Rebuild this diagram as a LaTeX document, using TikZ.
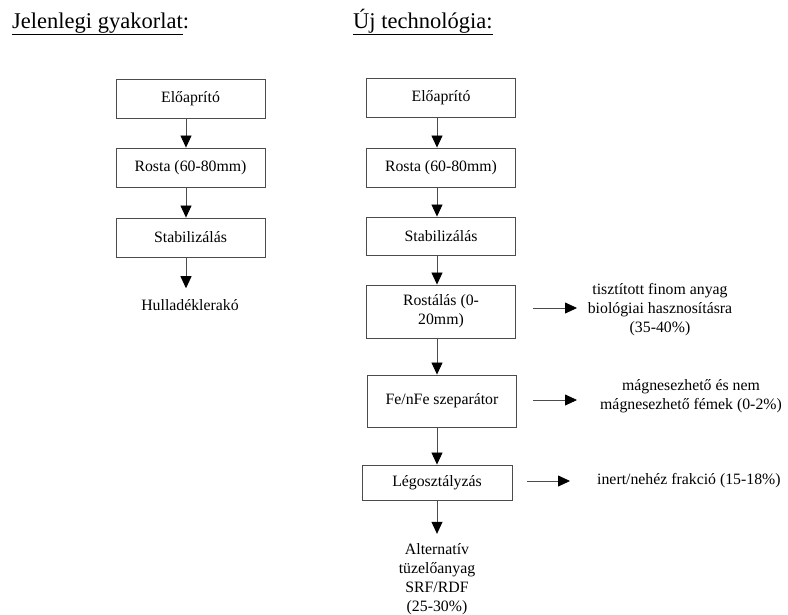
\documentclass[tikz,border=0pt]{standalone}
\usepackage{fontspec}
\setmainfont{Liberation Serif}
\usetikzlibrary{arrows.meta}
\begin{document}
\begin{tikzpicture}[x=1pt,y=-1pt,
  every node/.style={font=\fontsize{15.8}{19}\selectfont, inner sep=0pt},
  stepbox/.style={draw=black!70, line width=0.9pt, minimum width=149pt, minimum height=39pt, align=center, fill=white},
  flow/.style={draw=black!70, line width=0.8pt, -{Triangle[width=11pt,length=12pt,color=black,fill=black]}},
  side/.style={align=center},
  heading/.style={font=\fontsize{22.5}{26}\selectfont, anchor=base west}]
\useasboundingbox (0,0) rectangle (788,614);

% headings
\node[heading] (h1) at (12,28) {\underline{Jelenlegi gyakorlat}:};
\node[heading] (h2) at (353,28) {\underline{Új technológia:}};

% current practice
\node[stepbox] (l1) at (190.5,98.5) {Előaprító};
\node[stepbox] (l2) at (190.5,167.5) {Rosta (60-80mm)};
\node[stepbox] (l3) at (190.5,237.5) {Stabilizálás};
\node (l4) at (190,305) {Hulladéklerakó};
\coordinate (lx) at (186,0);
\draw[flow] (l1.south -| lx) -- (l2.north -| lx);
\draw[flow] (l2.south -| lx) -- (l3.north -| lx);
\draw[flow] (l3.south -| lx) -- ([yshift=11pt]l4.north -| lx);

% new technology
\node[stepbox] (r1) at (441,97.5) {Előaprító};
\node[stepbox] (r2) at (441,167.5) {Rosta (60-80mm)};
\node[stepbox, minimum height=38pt] (r3) at (441,236) {Stabilizálás};
\node[stepbox, minimum height=53pt] (r4) at (441,311.5) {Rostálás (0-\\20mm)};
\node[stepbox, minimum height=52pt] (r5) at (442,401) {Fe/nFe szeparátor};
\node[stepbox, minimum width=150pt, minimum height=35pt] (r6) at (437,482.5) {Légosztályzás};
\node[side, font=\fontsize{15.8}{19.2}\selectfont] (r7) at (437,579) {Alternatív\\tüzelőanyag\\SRF/RDF\\(25-30\%)};
\coordinate (rx) at (437,0);
\draw[flow] (r1.south -| rx) -- (r2.north -| rx);
\draw[flow] (r2.south -| rx) -- (r3.north -| rx);
\draw[flow] (r3.south -| rx) -- (r4.north -| rx);
\draw[flow] (r4.south -| rx) -- (r5.north -| rx);
\draw[flow] (r5.south -| rx) -- (r6.north -| rx);
\draw[flow] (r6.south -| rx) -- ([yshift=9pt]r7.north -| rx);

% side outputs
\node[side] (o4) at (660,310) {tisztított finom anyag\\biológiai hasznosításra\\(35-40\%)};
\node[side] (o5) at (691,396) {mágnesezhető és nem\\mágnesezhető fémek (0-2\%)};
\node[anchor=west] (o6) at (597,481) {inert/nehéz frakció (15-18\%)};
\coordinate (a4s) at (533,308);
\coordinate (a4e) at (577,308);
\coordinate (a5s) at (533,400);
\coordinate (a5e) at (577,400);
\coordinate (a6s) at (527,481);
\coordinate (a6e) at (570,481);
\draw[flow] (a4s) -- (a4e);
\draw[flow] (a5s) -- (a5e);
\draw[flow] (a6s) -- (a6e);
\end{tikzpicture}
\end{document}
